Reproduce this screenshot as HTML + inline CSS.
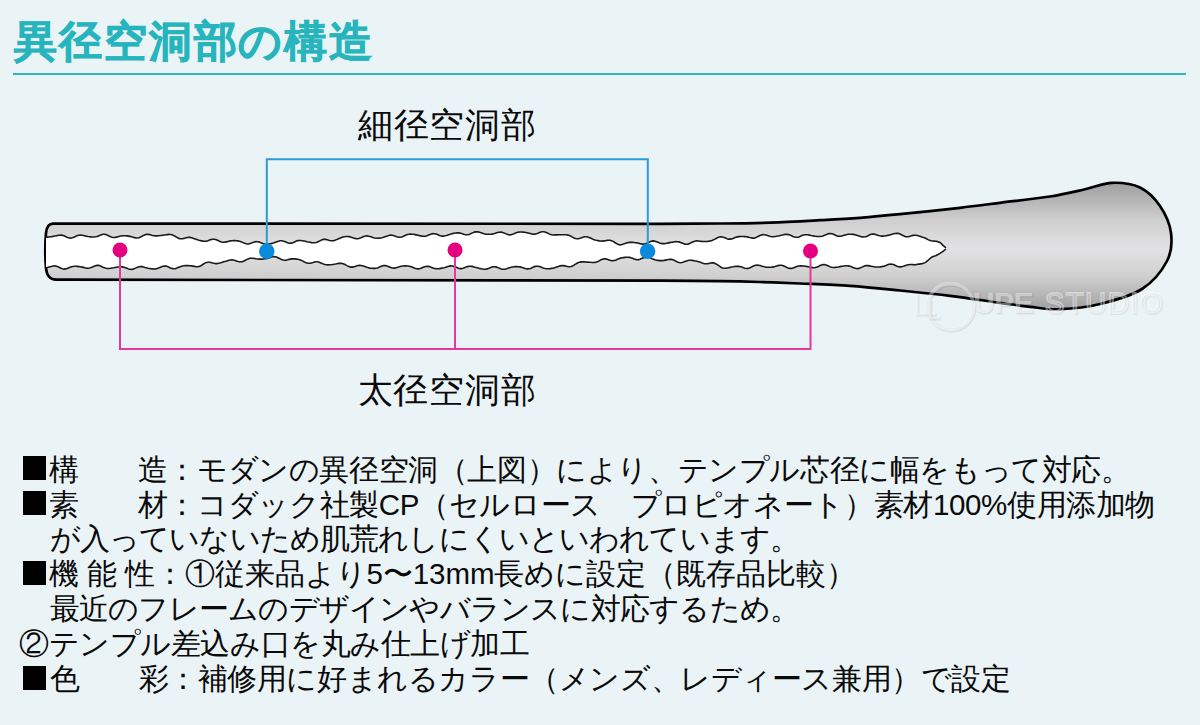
<!DOCTYPE html>
<html lang="ja"><head><meta charset="utf-8">
<style>
html,body{margin:0;padding:0;}
body{width:1200px;height:725px;overflow:hidden;background:#eaf3f6;position:relative;font-family:"Liberation Sans",sans-serif;color:#0a0a0a;}
.title{position:absolute;left:14px;top:13px;font-size:43px;letter-spacing:1.9px;font-weight:bold;color:#27b5bd;line-height:56px;white-space:nowrap;-webkit-text-stroke:0.7px #27b5bd;}
.rule{position:absolute;left:12.5px;top:72.5px;width:1173.5px;height:2px;background:#2db6bd;}
.lbl{position:absolute;font-size:35px;line-height:40px;white-space:nowrap;color:#0a0a0a;}
.ln{position:absolute;font-size:29.5px;line-height:34px;white-space:nowrap;color:#0a0a0a;}
.sq{position:absolute;left:22.7px;width:23.5px;height:24px;background:#000;}
svg{position:absolute;left:0;top:0;}
</style></head><body>
<div class="title">異径空洞部の構造</div>
<div class="rule"></div>
<svg width="1200" height="725" viewBox="0 0 1200 725">
<defs>
<linearGradient id="g" gradientUnits="userSpaceOnUse" x1="0" y1="182" x2="0" y2="310">
<stop offset="0" stop-color="#9e9e9e"/>
<stop offset="0.3" stop-color="#cfcfcf"/>
<stop offset="0.52" stop-color="#e2e2e4"/>
<stop offset="0.74" stop-color="#cfcfcf"/>
<stop offset="1" stop-color="#a0a0a0"/>
</linearGradient>
</defs>
<path d="M53 223.6 L660 223.8  C670.00 223.75 701.67 223.70 720.00 223.50 C738.33 223.30 753.33 223.15 770.00 222.60 C786.67 222.05 805.00 221.00 820.00 220.20 C835.00 219.40 846.67 218.80 860.00 217.80 C873.33 216.80 883.33 215.87 900.00 214.20 C916.67 212.53 943.33 209.70 960.00 207.80 C976.67 205.90 985.00 204.68 1000.00 202.80 C1015.00 200.92 1035.83 198.75 1050.00 196.50 C1064.17 194.25 1074.67 191.58 1085.00 189.30 C1095.33 187.02 1102.83 183.10 1112.00 182.80 C1121.17 182.50 1132.00 183.63 1140.00 187.50 C1148.00 191.37 1154.83 198.42 1160.00 206.00 C1165.17 213.58 1169.83 223.83 1171.00 233.00 C1172.17 242.17 1171.83 251.67 1167.00 261.00 C1162.17 270.33 1153.17 281.83 1142.00 289.00 C1130.83 296.17 1113.67 300.63 1100.00 304.00 C1086.33 307.37 1071.67 308.73 1060.00 309.20 C1048.33 309.67 1040.00 307.87 1030.00 306.80 C1020.00 305.73 1013.33 304.63 1000.00 302.80 C986.67 300.97 966.67 297.85 950.00 295.80 C933.33 293.75 916.67 292.15 900.00 290.50 C883.33 288.85 866.67 287.07 850.00 285.90 C833.33 284.73 815.00 284.15 800.00 283.50 C785.00 282.85 773.33 282.40 760.00 282.00 C746.67 281.60 736.67 281.33 720.00 281.10 C703.33 280.87 670.00 280.68 660.00 280.60 L56 279.7 C50 279.6 46.6 275 46 268 C45.2 258 45.2 242 46 233 C46.6 227 48.5 223.7 53 223.6 Z" fill="url(#g)" stroke="#000" stroke-width="2.7"/>
<path d="M46.0 237.1 L47.5 237.1 L49.0 237.0 L50.5 236.8 L52.0 236.6 L53.5 236.3 L55.0 236.0 L56.5 235.7 L58.0 235.4 L59.5 235.2 L61.0 235.1 L62.5 235.4 L64.0 235.8 L65.5 236.5 L67.0 237.2 L68.5 237.8 L70.0 238.1 L71.5 238.0 L73.0 237.6 L74.5 237.0 L76.0 236.2 L77.5 235.6 L79.0 235.2 L80.5 235.1 L82.0 235.3 L83.5 235.5 L85.0 235.9 L86.5 236.2 L88.0 236.5 L89.5 236.7 L91.0 236.9 L92.5 237.0 L94.0 237.0 L95.5 236.8 L97.0 236.5 L98.5 235.9 L100.0 235.3 L101.5 234.7 L103.0 234.3 L104.5 234.3 L106.0 234.6 L107.5 235.2 L109.0 236.0 L110.5 236.7 L112.0 237.2 L113.5 237.5 L115.0 237.4 L116.5 237.1 L118.0 236.7 L119.5 236.3 L121.0 236.0 L122.5 235.8 L124.0 235.7 L125.5 235.7 L127.0 235.9 L128.5 236.1 L130.0 236.4 L131.5 236.8 L133.0 237.2 L134.5 237.6 L136.0 237.9 L137.5 238.0 L139.0 237.7 L140.5 237.1 L142.0 236.3 L143.5 235.4 L145.0 234.8 L146.5 234.4 L148.0 234.3 L149.5 234.6 L151.0 235.0 L152.5 235.4 L154.0 235.8 L155.5 235.9 L157.0 235.9 L158.5 235.7 L160.0 235.5 L161.5 235.4 L163.0 235.2 L164.5 235.0 L166.0 234.8 L167.5 234.6 L169.0 234.4 L170.5 234.5 L172.0 234.8 L173.5 235.4 L175.0 236.2 L176.5 237.1 L178.0 238.0 L179.5 238.6 L181.0 238.8 L182.5 238.7 L184.0 238.4 L185.5 237.9 L187.0 237.5 L188.5 237.4 L190.0 237.4 L191.5 237.7 L193.0 238.2 L194.5 238.7 L196.0 239.2 L197.5 239.7 L199.0 240.2 L200.5 240.6 L202.0 240.9 L203.5 241.2 L205.0 241.2 L206.5 241.1 L208.0 240.7 L209.5 240.1 L211.0 239.6 L212.5 239.3 L214.0 239.2 L215.5 239.5 L217.0 240.1 L218.5 240.8 L220.0 241.5 L221.5 242.0 L223.0 242.3 L224.5 242.2 L226.0 241.9 L227.5 241.6 L229.0 241.2 L230.5 240.9 L232.0 240.7 L233.5 240.6 L235.0 240.6 L236.5 240.7 L238.0 240.9 L239.5 241.2 L241.0 241.7 L242.5 242.4 L244.0 243.1 L245.5 243.6 L247.0 244.0 L248.5 244.0 L250.0 243.6 L251.5 243.1 L253.0 242.4 L254.5 241.9 L256.0 241.6 L257.5 241.7 L259.0 242.1 L260.5 242.6 L262.0 243.2 L263.5 243.8 L265.0 244.1 L266.5 244.2 L268.0 244.1 L269.5 243.9 L271.0 243.6 L272.5 243.2 L274.0 242.8 L275.5 242.2 L277.0 241.7 L278.5 241.2 L280.0 240.8 L281.5 240.8 L283.0 241.0 L284.5 241.5 L286.0 242.1 L287.5 242.7 L289.0 243.1 L290.5 243.2 L292.0 242.9 L293.5 242.4 L295.0 241.7 L296.5 241.1 L298.0 240.6 L299.5 240.5 L301.0 240.5 L302.5 240.7 L304.0 241.0 L305.5 241.3 L307.0 241.7 L308.5 242.0 L310.0 242.3 L311.5 242.6 L313.0 242.8 L314.5 242.8 L316.0 242.5 L317.5 242.0 L319.0 241.3 L320.5 240.6 L322.0 239.8 L323.5 239.4 L325.0 239.3 L326.5 239.6 L328.0 240.0 L329.5 240.5 L331.0 240.8 L332.5 240.8 L334.0 240.6 L335.5 240.1 L337.0 239.4 L338.5 238.8 L340.0 238.2 L341.5 237.6 L343.0 237.1 L344.5 236.7 L346.0 236.5 L347.5 236.5 L349.0 236.6 L350.5 236.9 L352.0 237.4 L353.5 238.0 L355.0 238.4 L356.5 238.7 L358.0 238.7 L359.5 238.3 L361.0 237.7 L362.5 237.0 L364.0 236.4 L365.5 236.0 L367.0 235.9 L368.5 236.2 L370.0 236.6 L371.5 237.1 L373.0 237.6 L374.5 238.0 L376.0 238.2 L377.5 238.2 L379.0 238.1 L380.5 238.0 L382.0 237.7 L383.5 237.3 L385.0 236.8 L386.5 236.3 L388.0 235.7 L389.5 235.3 L391.0 235.1 L392.5 235.3 L394.0 235.7 L395.5 236.3 L397.0 236.8 L398.5 237.2 L400.0 237.3 L401.5 237.0 L403.0 236.4 L404.5 235.7 L406.0 235.0 L407.5 234.5 L409.0 234.2 L410.5 234.1 L412.0 234.2 L413.5 234.3 L415.0 234.6 L416.5 234.9 L418.0 235.2 L419.5 235.6 L421.0 235.9 L422.5 236.2 L424.0 236.3 L425.5 236.2 L427.0 235.7 L428.5 235.1 L430.0 234.5 L431.5 233.9 L433.0 233.6 L434.5 233.7 L436.0 234.0 L437.5 234.6 L439.0 235.3 L440.5 235.8 L442.0 236.1 L443.5 236.1 L445.0 235.8 L446.5 235.4 L448.0 234.9 L449.5 234.5 L451.0 234.0 L452.5 233.6 L454.0 233.3 L455.5 233.0 L457.0 232.8 L458.5 232.9 L460.0 233.1 L461.5 233.5 L463.0 234.0 L464.5 234.5 L466.0 234.8 L467.5 234.8 L469.0 234.4 L470.5 233.8 L472.0 233.1 L473.5 232.4 L475.0 231.9 L476.5 231.7 L478.0 231.9 L479.5 232.3 L481.0 232.8 L482.5 233.3 L484.0 233.8 L485.5 234.1 L487.0 234.2 L488.5 234.3 L490.0 234.3 L491.5 234.2 L493.0 233.9 L494.5 233.6 L496.0 233.1 L497.5 232.6 L499.0 232.2 L500.5 232.0 L502.0 232.2 L503.5 232.7 L505.0 233.4 L506.5 234.1 L508.0 234.6 L509.5 234.9 L511.0 234.8 L512.5 234.3 L514.0 233.7 L515.5 233.0 L517.0 232.5 L518.5 232.1 L520.0 232.0 L521.5 232.0 L523.0 232.1 L524.5 232.3 L526.0 232.5 L527.5 232.9 L529.0 233.2 L530.5 233.6 L532.0 234.0 L533.5 234.1 L535.0 234.1 L536.5 233.7 L538.0 233.2 L539.5 232.5 L541.0 232.0 L542.5 231.7 L544.0 231.8 L545.5 232.2 L547.0 232.8 L548.5 233.6 L550.0 234.3 L551.5 234.7 L553.0 235.0 L554.5 234.9 L556.0 234.9 L557.5 234.9 L559.0 234.8 L560.5 234.7 L562.0 234.7 L563.5 234.7 L565.0 234.7 L566.5 234.8 L568.0 235.1 L569.5 235.6 L571.0 236.3 L572.5 237.1 L574.0 237.9 L575.5 238.5 L577.0 238.8 L578.5 238.7 L580.0 238.3 L581.5 237.8 L583.0 237.2 L584.5 236.8 L586.0 236.8 L587.5 237.0 L589.0 237.5 L590.5 238.1 L592.0 238.8 L593.5 239.4 L595.0 239.9 L596.5 240.3 L598.0 240.6 L599.5 240.9 L601.0 241.0 L602.5 241.1 L604.0 240.9 L605.5 240.7 L607.0 240.4 L608.5 240.3 L610.0 240.3 L611.5 240.7 L613.0 241.4 L614.5 242.3 L616.0 243.3 L617.5 244.1 L619.0 244.7 L620.5 244.9 L622.0 244.6 L623.5 244.1 L625.0 243.5 L626.5 243.0 L628.0 242.6 L629.5 242.4 L631.0 242.3 L632.5 242.4 L634.0 242.5 L635.5 242.7 L637.0 242.9 L638.5 243.2 L640.0 243.6 L641.5 243.9 L643.0 244.1 L644.5 244.0 L646.0 243.6 L647.5 243.0 L649.0 242.3 L650.5 241.6 L652.0 241.1 L653.5 240.9 L655.0 241.2 L656.5 241.7 L658.0 242.3 L659.5 242.9 L661.0 243.4 L662.5 243.6 L664.0 243.6 L665.5 243.5 L667.0 243.2 L668.5 242.9 L670.0 242.6 L671.5 242.3 L673.0 242.1 L674.5 241.8 L676.0 241.6 L677.5 241.7 L679.0 241.9 L680.5 242.4 L682.0 243.0 L683.5 243.6 L685.0 244.1 L686.5 244.2 L688.0 244.1 L689.5 243.5 L691.0 242.8 L692.5 242.0 L694.0 241.4 L695.5 241.0 L697.0 240.9 L698.5 241.0 L700.0 241.3 L701.5 241.4 L703.0 241.5 L704.5 241.5 L706.0 241.5 L707.5 241.4 L709.0 241.2 L710.5 240.9 L712.0 240.4 L713.5 239.8 L715.0 239.1 L716.5 238.3 L718.0 237.5 L719.5 237.0 L721.0 236.9 L722.5 237.0 L724.0 237.5 L725.5 238.1 L727.0 238.7 L728.5 239.1 L730.0 239.1 L731.5 238.9 L733.0 238.4 L734.5 237.8 L736.0 237.3 L737.5 236.9 L739.0 236.6 L740.5 236.5 L742.0 236.5 L743.5 236.5 L745.0 236.6 L746.5 236.8 L748.0 237.1 L749.5 237.5 L751.0 237.8 L752.5 238.1 L754.0 238.1 L755.5 237.7 L757.0 237.1 L758.5 236.3 L760.0 235.5 L761.5 234.9 L763.0 234.6 L764.5 234.7 L766.0 235.0 L767.5 235.6 L769.0 236.1 L770.5 236.5 L772.0 236.7 L773.5 236.7 L775.0 236.5 L776.5 236.3 L778.0 236.0 L779.5 235.7 L781.0 235.3 L782.5 235.0 L784.0 234.6 L785.5 234.4 L787.0 234.4 L788.5 234.6 L790.0 235.0 L791.5 235.7 L793.0 236.4 L794.5 237.0 L796.0 237.3 L797.5 237.3 L799.0 236.9 L800.5 236.3 L802.0 235.6 L803.5 235.1 L805.0 234.7 L806.5 234.7 L808.0 234.8 L809.5 235.1 L811.0 235.5 L812.5 235.8 L814.0 236.1 L815.5 236.3 L817.0 236.5 L818.5 236.5 L820.0 236.5 L821.5 236.3 L823.0 235.9 L824.5 235.3 L826.0 234.7 L827.5 234.0 L829.0 233.6 L830.5 233.5 L832.0 233.7 L833.5 234.3 L835.0 235.0 L836.5 235.7 L838.0 236.1 L839.5 236.3 L841.0 236.1 L842.5 235.8 L844.0 235.3 L845.5 234.9 L847.0 234.5 L848.5 234.3 L850.0 234.3 L851.5 234.3 L853.0 234.4 L854.5 234.6 L856.0 234.9 L857.5 235.4 L859.0 235.9 L860.5 236.4 L862.0 236.9 L863.5 237.0 L865.0 236.8 L866.5 236.4 L868.0 235.7 L869.5 234.9 L871.0 234.3 L872.5 234.0 L874.0 234.1 L875.5 234.4 L877.0 234.9 L878.5 235.4 L880.0 235.8 L881.5 236.1 L883.0 236.1 L884.5 236.0 L886.0 235.7 L887.5 235.4 L889.0 235.1 L890.5 234.7 L892.0 234.3 L893.5 233.8 L895.0 233.5 L896.5 233.3 L898.0 233.4 L899.5 233.8 L901.0 234.5 L902.5 235.3 L904.0 236.1 L905.5 236.6 L907.0 236.8 L908.5 236.7 L910.0 236.3 L911.5 235.8 L913.0 235.4 L914.5 235.2 L916.0 235.2 L917.5 235.5 L919.0 235.9 L920.5 236.4 L922.0 237.0 L923.5 237.5 L925.0 237.9 L926.5 238.8 L928.0 239.6 L929.5 240.3 L931.0 240.8 L932.5 241.0 L934.0 241.1 L935.5 241.2 L937.0 241.4 L938.5 241.9 L940.0 242.5 L941.5 243.9 L943.0 245.4 L944.5 246.7 L946.0 248.0 L946.0 249.0 L944.5 250.2 L943.0 251.3 L941.5 252.4 L940.0 253.4 L938.5 254.3 L937.0 255.0 L935.5 255.7 L934.0 256.2 L932.5 256.8 L931.0 257.7 L929.5 259.0 L928.0 260.3 L926.5 261.6 L925.0 262.6 L923.5 263.3 L922.0 263.7 L920.5 263.9 L919.0 264.1 L917.5 264.3 L916.0 264.6 L914.5 264.7 L913.0 264.6 L911.5 264.5 L910.0 264.5 L908.5 264.7 L907.0 265.0 L905.5 265.5 L904.0 266.1 L902.5 266.6 L901.0 266.9 L899.5 266.9 L898.0 266.6 L896.5 266.0 L895.0 265.3 L893.5 264.6 L892.0 264.2 L890.5 264.1 L889.0 264.3 L887.5 264.8 L886.0 265.4 L884.5 265.9 L883.0 266.4 L881.5 266.7 L880.0 266.9 L878.5 267.0 L877.0 267.0 L875.5 267.0 L874.0 266.8 L872.5 266.5 L871.0 266.2 L869.5 265.9 L868.0 265.6 L866.5 265.6 L865.0 265.8 L863.5 266.4 L862.0 267.1 L860.5 267.8 L859.0 268.4 L857.5 268.6 L856.0 268.5 L854.5 268.1 L853.0 267.5 L851.5 266.8 L850.0 266.3 L848.5 265.9 L847.0 265.8 L845.5 265.8 L844.0 266.0 L842.5 266.2 L841.0 266.4 L839.5 266.7 L838.0 267.0 L836.5 267.2 L835.0 267.4 L833.5 267.5 L832.0 267.3 L830.5 266.9 L829.0 266.3 L827.5 265.6 L826.0 265.0 L824.5 264.6 L823.0 264.6 L821.5 265.0 L820.0 265.6 L818.5 266.4 L817.0 267.0 L815.5 267.5 L814.0 267.7 L812.5 267.6 L811.0 267.3 L809.5 267.0 L808.0 266.7 L806.5 266.4 L805.0 266.2 L803.5 266.0 L802.0 265.9 L800.5 265.9 L799.0 266.0 L797.5 266.3 L796.0 266.8 L794.5 267.4 L793.0 268.0 L791.5 268.4 L790.0 268.4 L788.5 268.2 L787.0 267.6 L785.5 266.8 L784.0 266.1 L782.5 265.5 L781.0 265.3 L779.5 265.3 L778.0 265.6 L776.5 266.0 L775.0 266.5 L773.5 266.9 L772.0 267.1 L770.5 267.2 L769.0 267.2 L767.5 267.2 L766.0 267.1 L764.5 266.8 L763.0 266.4 L761.5 266.0 L760.0 265.5 L758.5 265.2 L757.0 265.1 L755.5 265.3 L754.0 265.8 L752.5 266.5 L751.0 267.3 L749.5 268.0 L748.0 268.4 L746.5 268.5 L745.0 268.2 L743.5 267.7 L742.0 267.1 L740.5 266.7 L739.0 266.4 L737.5 266.3 L736.0 266.4 L734.5 266.5 L733.0 266.8 L731.5 267.0 L730.0 267.4 L728.5 267.7 L727.0 268.0 L725.5 268.3 L724.0 268.3 L722.5 267.9 L721.0 267.2 L719.5 266.2 L718.0 265.2 L716.5 264.2 L715.0 263.4 L713.5 262.9 L712.0 262.8 L710.5 263.0 L709.0 263.4 L707.5 263.7 L706.0 263.8 L704.5 263.7 L703.0 263.3 L701.5 262.8 L700.0 262.1 L698.5 261.7 L697.0 261.3 L695.5 261.0 L694.0 260.7 L692.5 260.4 L691.0 260.3 L689.5 260.3 L688.0 260.5 L686.5 260.9 L685.0 261.5 L683.5 262.1 L682.0 262.5 L680.5 262.7 L679.0 262.5 L677.5 261.9 L676.0 261.2 L674.5 260.4 L673.0 259.8 L671.5 259.4 L670.0 259.3 L668.5 259.5 L667.0 259.8 L665.5 260.1 L664.0 260.4 L662.5 260.6 L661.0 260.6 L659.5 260.6 L658.0 260.4 L656.5 260.2 L655.0 259.8 L653.5 259.3 L652.0 258.7 L650.5 258.0 L649.0 257.4 L647.5 257.1 L646.0 257.1 L644.5 257.4 L643.0 258.0 L641.5 258.6 L640.0 259.3 L638.5 259.6 L637.0 259.7 L635.5 259.4 L634.0 258.9 L632.5 258.3 L631.0 257.8 L629.5 257.4 L628.0 257.3 L626.5 257.3 L625.0 257.4 L623.5 257.6 L622.0 257.8 L620.5 258.1 L619.0 258.7 L617.5 259.3 L616.0 260.0 L614.5 260.4 L613.0 260.7 L611.5 260.6 L610.0 260.3 L608.5 259.7 L607.0 259.2 L605.5 258.9 L604.0 258.9 L602.5 259.2 L601.0 259.8 L599.5 260.6 L598.0 261.4 L596.5 262.0 L595.0 262.4 L593.5 262.5 L592.0 262.5 L590.5 262.3 L589.0 262.2 L587.5 262.1 L586.0 262.0 L584.5 261.9 L583.0 261.8 L581.5 261.9 L580.0 262.1 L578.5 262.5 L577.0 263.2 L575.5 264.1 L574.0 265.1 L572.5 265.9 L571.0 266.5 L569.5 266.7 L568.0 266.6 L566.5 266.3 L565.0 265.9 L563.5 265.6 L562.0 265.6 L560.5 265.9 L559.0 266.2 L557.5 266.7 L556.0 267.2 L554.5 267.7 L553.0 268.1 L551.5 268.4 L550.0 268.6 L548.5 268.7 L547.0 268.7 L545.5 268.5 L544.0 268.2 L542.5 267.7 L541.0 267.1 L539.5 266.6 L538.0 266.2 L536.5 266.2 L535.0 266.4 L533.5 267.0 L532.0 267.7 L530.5 268.4 L529.0 268.8 L527.5 268.9 L526.0 268.7 L524.5 268.3 L523.0 267.8 L521.5 267.3 L520.0 266.9 L518.5 266.7 L517.0 266.6 L515.5 266.6 L514.0 266.8 L512.5 267.0 L511.0 267.3 L509.5 267.8 L508.0 268.3 L506.5 268.8 L505.0 269.2 L503.5 269.3 L502.0 269.2 L500.5 268.7 L499.0 268.1 L497.5 267.4 L496.0 266.9 L494.5 266.7 L493.0 266.8 L491.5 267.2 L490.0 267.8 L488.5 268.4 L487.0 268.9 L485.5 269.2 L484.0 269.2 L482.5 269.0 L481.0 268.7 L479.5 268.4 L478.0 268.0 L476.5 267.6 L475.0 267.2 L473.5 266.7 L472.0 266.4 L470.5 266.2 L469.0 266.3 L467.5 266.6 L466.0 267.1 L464.5 267.7 L463.0 268.3 L461.5 268.6 L460.0 268.6 L458.5 268.2 L457.0 267.6 L455.5 267.0 L454.0 266.4 L452.5 266.0 L451.0 265.9 L449.5 266.1 L448.0 266.5 L446.5 266.9 L445.0 267.4 L443.5 267.8 L442.0 268.1 L440.5 268.4 L439.0 268.6 L437.5 268.7 L436.0 268.7 L434.5 268.4 L433.0 268.0 L431.5 267.4 L430.0 266.8 L428.5 266.4 L427.0 266.3 L425.5 266.5 L424.0 267.0 L422.5 267.6 L421.0 268.3 L419.5 268.7 L418.0 268.9 L416.5 268.7 L415.0 268.3 L413.5 267.7 L412.0 267.1 L410.5 266.6 L409.0 266.2 L407.5 266.0 L406.0 265.9 L404.5 265.9 L403.0 266.0 L401.5 266.2 L400.0 266.6 L398.5 267.1 L397.0 267.5 L395.5 267.9 L394.0 268.1 L392.5 268.0 L391.0 267.6 L389.5 267.0 L388.0 266.4 L386.5 265.8 L385.0 265.5 L383.5 265.6 L382.0 266.0 L380.5 266.6 L379.0 267.3 L377.5 267.9 L376.0 268.3 L374.5 268.4 L373.0 268.4 L371.5 268.3 L370.0 268.1 L368.5 267.7 L367.0 267.3 L365.5 266.8 L364.0 266.3 L362.5 265.8 L361.0 265.5 L359.5 265.4 L358.0 265.5 L356.5 265.9 L355.0 266.4 L353.5 266.9 L352.0 267.1 L350.5 267.1 L349.0 266.6 L347.5 265.9 L346.0 265.1 L344.5 264.3 L343.0 263.7 L341.5 263.4 L340.0 263.3 L338.5 263.4 L337.0 263.7 L335.5 264.0 L334.0 264.2 L332.5 264.5 L331.0 264.7 L329.5 264.8 L328.0 264.9 L326.5 264.8 L325.0 264.5 L323.5 264.1 L322.0 263.4 L320.5 262.8 L319.0 262.2 L317.5 261.8 L316.0 261.7 L314.5 262.0 L313.0 262.5 L311.5 262.9 L310.0 263.3 L308.5 263.3 L307.0 263.0 L305.5 262.4 L304.0 261.7 L302.5 260.9 L301.0 260.2 L299.5 259.7 L298.0 259.3 L296.5 259.1 L295.0 258.9 L293.5 258.8 L292.0 258.9 L290.5 259.1 L289.0 259.4 L287.5 259.8 L286.0 260.1 L284.5 260.2 L283.0 260.0 L281.5 259.5 L280.0 258.8 L278.5 258.0 L277.0 257.2 L275.5 256.7 L274.0 256.6 L272.5 256.8 L271.0 257.3 L269.5 257.8 L268.0 258.3 L266.5 258.7 L265.0 258.8 L263.5 259.0 L262.0 259.1 L260.5 259.1 L259.0 259.1 L257.5 259.0 L256.0 258.8 L254.5 258.5 L253.0 258.3 L251.5 258.2 L250.0 258.3 L248.5 258.7 L247.0 259.4 L245.5 260.2 L244.0 261.0 L242.5 261.6 L241.0 261.8 L239.5 261.8 L238.0 261.4 L236.5 260.9 L235.0 260.4 L233.5 260.0 L232.0 259.9 L230.5 260.0 L229.0 260.3 L227.5 260.7 L226.0 261.2 L224.5 261.6 L223.0 262.1 L221.5 262.6 L220.0 263.0 L218.5 263.3 L217.0 263.6 L215.5 263.6 L214.0 263.3 L212.5 263.0 L211.0 262.5 L209.5 262.2 L208.0 262.2 L206.5 262.5 L205.0 263.1 L203.5 264.0 L202.0 265.0 L200.5 265.9 L199.0 266.4 L197.5 266.7 L196.0 266.6 L194.5 266.4 L193.0 266.1 L191.5 265.9 L190.0 265.7 L188.5 265.6 L187.0 265.6 L185.5 265.6 L184.0 265.7 L182.5 266.0 L181.0 266.4 L179.5 267.0 L178.0 267.6 L176.5 268.2 L175.0 268.6 L173.5 268.7 L172.0 268.4 L170.5 267.9 L169.0 267.2 L167.5 266.6 L166.0 266.1 L164.5 266.1 L163.0 266.3 L161.5 266.8 L160.0 267.4 L158.5 268.0 L157.0 268.5 L155.5 268.9 L154.0 269.0 L152.5 268.9 L151.0 268.8 L149.5 268.5 L148.0 268.2 L146.5 267.8 L145.0 267.4 L143.5 266.9 L142.0 266.6 L140.5 266.5 L139.0 266.7 L137.5 267.2 L136.0 267.9 L134.5 268.6 L133.0 269.2 L131.5 269.4 L130.0 269.3 L128.5 268.9 L127.0 268.3 L125.5 267.7 L124.0 267.2 L122.5 266.9 L121.0 266.7 L119.5 266.8 L118.0 267.0 L116.5 267.2 L115.0 267.5 L113.5 267.8 L112.0 268.0 L110.5 268.3 L109.0 268.5 L107.5 268.5 L106.0 268.3 L104.5 267.8 L103.0 267.2 L101.5 266.5 L100.0 265.8 L98.5 265.4 L97.0 265.4 L95.5 265.7 L94.0 266.3 L92.5 267.0 L91.0 267.6 L89.5 268.0 L88.0 268.2 L86.5 268.1 L85.0 267.8 L83.5 267.4 L82.0 267.1 L80.5 266.8 L79.0 266.6 L77.5 266.4 L76.0 266.3 L74.5 266.3 L73.0 266.5 L71.5 266.8 L70.0 267.3 L68.5 267.9 L67.0 268.5 L65.5 268.9 L64.0 269.1 L62.5 268.8 L61.0 268.3 L59.5 267.5 L58.0 266.8 L56.5 266.2 L55.0 265.9 L53.5 266.0 L52.0 266.3 L50.5 266.7 L49.0 267.1 L47.5 267.5 L46.0 267.7 Z" fill="#fff" stroke="none"/>
<path d="M46.0 237.1 L47.5 237.1 L49.0 237.0 L50.5 236.8 L52.0 236.6 L53.5 236.3 L55.0 236.0 L56.5 235.7 L58.0 235.4 L59.5 235.2 L61.0 235.1 L62.5 235.4 L64.0 235.8 L65.5 236.5 L67.0 237.2 L68.5 237.8 L70.0 238.1 L71.5 238.0 L73.0 237.6 L74.5 237.0 L76.0 236.2 L77.5 235.6 L79.0 235.2 L80.5 235.1 L82.0 235.3 L83.5 235.5 L85.0 235.9 L86.5 236.2 L88.0 236.5 L89.5 236.7 L91.0 236.9 L92.5 237.0 L94.0 237.0 L95.5 236.8 L97.0 236.5 L98.5 235.9 L100.0 235.3 L101.5 234.7 L103.0 234.3 L104.5 234.3 L106.0 234.6 L107.5 235.2 L109.0 236.0 L110.5 236.7 L112.0 237.2 L113.5 237.5 L115.0 237.4 L116.5 237.1 L118.0 236.7 L119.5 236.3 L121.0 236.0 L122.5 235.8 L124.0 235.7 L125.5 235.7 L127.0 235.9 L128.5 236.1 L130.0 236.4 L131.5 236.8 L133.0 237.2 L134.5 237.6 L136.0 237.9 L137.5 238.0 L139.0 237.7 L140.5 237.1 L142.0 236.3 L143.5 235.4 L145.0 234.8 L146.5 234.4 L148.0 234.3 L149.5 234.6 L151.0 235.0 L152.5 235.4 L154.0 235.8 L155.5 235.9 L157.0 235.9 L158.5 235.7 L160.0 235.5 L161.5 235.4 L163.0 235.2 L164.5 235.0 L166.0 234.8 L167.5 234.6 L169.0 234.4 L170.5 234.5 L172.0 234.8 L173.5 235.4 L175.0 236.2 L176.5 237.1 L178.0 238.0 L179.5 238.6 L181.0 238.8 L182.5 238.7 L184.0 238.4 L185.5 237.9 L187.0 237.5 L188.5 237.4 L190.0 237.4 L191.5 237.7 L193.0 238.2 L194.5 238.7 L196.0 239.2 L197.5 239.7 L199.0 240.2 L200.5 240.6 L202.0 240.9 L203.5 241.2 L205.0 241.2 L206.5 241.1 L208.0 240.7 L209.5 240.1 L211.0 239.6 L212.5 239.3 L214.0 239.2 L215.5 239.5 L217.0 240.1 L218.5 240.8 L220.0 241.5 L221.5 242.0 L223.0 242.3 L224.5 242.2 L226.0 241.9 L227.5 241.6 L229.0 241.2 L230.5 240.9 L232.0 240.7 L233.5 240.6 L235.0 240.6 L236.5 240.7 L238.0 240.9 L239.5 241.2 L241.0 241.7 L242.5 242.4 L244.0 243.1 L245.5 243.6 L247.0 244.0 L248.5 244.0 L250.0 243.6 L251.5 243.1 L253.0 242.4 L254.5 241.9 L256.0 241.6 L257.5 241.7 L259.0 242.1 L260.5 242.6 L262.0 243.2 L263.5 243.8 L265.0 244.1 L266.5 244.2 L268.0 244.1 L269.5 243.9 L271.0 243.6 L272.5 243.2 L274.0 242.8 L275.5 242.2 L277.0 241.7 L278.5 241.2 L280.0 240.8 L281.5 240.8 L283.0 241.0 L284.5 241.5 L286.0 242.1 L287.5 242.7 L289.0 243.1 L290.5 243.2 L292.0 242.9 L293.5 242.4 L295.0 241.7 L296.5 241.1 L298.0 240.6 L299.5 240.5 L301.0 240.5 L302.5 240.7 L304.0 241.0 L305.5 241.3 L307.0 241.7 L308.5 242.0 L310.0 242.3 L311.5 242.6 L313.0 242.8 L314.5 242.8 L316.0 242.5 L317.5 242.0 L319.0 241.3 L320.5 240.6 L322.0 239.8 L323.5 239.4 L325.0 239.3 L326.5 239.6 L328.0 240.0 L329.5 240.5 L331.0 240.8 L332.5 240.8 L334.0 240.6 L335.5 240.1 L337.0 239.4 L338.5 238.8 L340.0 238.2 L341.5 237.6 L343.0 237.1 L344.5 236.7 L346.0 236.5 L347.5 236.5 L349.0 236.6 L350.5 236.9 L352.0 237.4 L353.5 238.0 L355.0 238.4 L356.5 238.7 L358.0 238.7 L359.5 238.3 L361.0 237.7 L362.5 237.0 L364.0 236.4 L365.5 236.0 L367.0 235.9 L368.5 236.2 L370.0 236.6 L371.5 237.1 L373.0 237.6 L374.5 238.0 L376.0 238.2 L377.5 238.2 L379.0 238.1 L380.5 238.0 L382.0 237.7 L383.5 237.3 L385.0 236.8 L386.5 236.3 L388.0 235.7 L389.5 235.3 L391.0 235.1 L392.5 235.3 L394.0 235.7 L395.5 236.3 L397.0 236.8 L398.5 237.2 L400.0 237.3 L401.5 237.0 L403.0 236.4 L404.5 235.7 L406.0 235.0 L407.5 234.5 L409.0 234.2 L410.5 234.1 L412.0 234.2 L413.5 234.3 L415.0 234.6 L416.5 234.9 L418.0 235.2 L419.5 235.6 L421.0 235.9 L422.5 236.2 L424.0 236.3 L425.5 236.2 L427.0 235.7 L428.5 235.1 L430.0 234.5 L431.5 233.9 L433.0 233.6 L434.5 233.7 L436.0 234.0 L437.5 234.6 L439.0 235.3 L440.5 235.8 L442.0 236.1 L443.5 236.1 L445.0 235.8 L446.5 235.4 L448.0 234.9 L449.5 234.5 L451.0 234.0 L452.5 233.6 L454.0 233.3 L455.5 233.0 L457.0 232.8 L458.5 232.9 L460.0 233.1 L461.5 233.5 L463.0 234.0 L464.5 234.5 L466.0 234.8 L467.5 234.8 L469.0 234.4 L470.5 233.8 L472.0 233.1 L473.5 232.4 L475.0 231.9 L476.5 231.7 L478.0 231.9 L479.5 232.3 L481.0 232.8 L482.5 233.3 L484.0 233.8 L485.5 234.1 L487.0 234.2 L488.5 234.3 L490.0 234.3 L491.5 234.2 L493.0 233.9 L494.5 233.6 L496.0 233.1 L497.5 232.6 L499.0 232.2 L500.5 232.0 L502.0 232.2 L503.5 232.7 L505.0 233.4 L506.5 234.1 L508.0 234.6 L509.5 234.9 L511.0 234.8 L512.5 234.3 L514.0 233.7 L515.5 233.0 L517.0 232.5 L518.5 232.1 L520.0 232.0 L521.5 232.0 L523.0 232.1 L524.5 232.3 L526.0 232.5 L527.5 232.9 L529.0 233.2 L530.5 233.6 L532.0 234.0 L533.5 234.1 L535.0 234.1 L536.5 233.7 L538.0 233.2 L539.5 232.5 L541.0 232.0 L542.5 231.7 L544.0 231.8 L545.5 232.2 L547.0 232.8 L548.5 233.6 L550.0 234.3 L551.5 234.7 L553.0 235.0 L554.5 234.9 L556.0 234.9 L557.5 234.9 L559.0 234.8 L560.5 234.7 L562.0 234.7 L563.5 234.7 L565.0 234.7 L566.5 234.8 L568.0 235.1 L569.5 235.6 L571.0 236.3 L572.5 237.1 L574.0 237.9 L575.5 238.5 L577.0 238.8 L578.5 238.7 L580.0 238.3 L581.5 237.8 L583.0 237.2 L584.5 236.8 L586.0 236.8 L587.5 237.0 L589.0 237.5 L590.5 238.1 L592.0 238.8 L593.5 239.4 L595.0 239.9 L596.5 240.3 L598.0 240.6 L599.5 240.9 L601.0 241.0 L602.5 241.1 L604.0 240.9 L605.5 240.7 L607.0 240.4 L608.5 240.3 L610.0 240.3 L611.5 240.7 L613.0 241.4 L614.5 242.3 L616.0 243.3 L617.5 244.1 L619.0 244.7 L620.5 244.9 L622.0 244.6 L623.5 244.1 L625.0 243.5 L626.5 243.0 L628.0 242.6 L629.5 242.4 L631.0 242.3 L632.5 242.4 L634.0 242.5 L635.5 242.7 L637.0 242.9 L638.5 243.2 L640.0 243.6 L641.5 243.9 L643.0 244.1 L644.5 244.0 L646.0 243.6 L647.5 243.0 L649.0 242.3 L650.5 241.6 L652.0 241.1 L653.5 240.9 L655.0 241.2 L656.5 241.7 L658.0 242.3 L659.5 242.9 L661.0 243.4 L662.5 243.6 L664.0 243.6 L665.5 243.5 L667.0 243.2 L668.5 242.9 L670.0 242.6 L671.5 242.3 L673.0 242.1 L674.5 241.8 L676.0 241.6 L677.5 241.7 L679.0 241.9 L680.5 242.4 L682.0 243.0 L683.5 243.6 L685.0 244.1 L686.5 244.2 L688.0 244.1 L689.5 243.5 L691.0 242.8 L692.5 242.0 L694.0 241.4 L695.5 241.0 L697.0 240.9 L698.5 241.0 L700.0 241.3 L701.5 241.4 L703.0 241.5 L704.5 241.5 L706.0 241.5 L707.5 241.4 L709.0 241.2 L710.5 240.9 L712.0 240.4 L713.5 239.8 L715.0 239.1 L716.5 238.3 L718.0 237.5 L719.5 237.0 L721.0 236.9 L722.5 237.0 L724.0 237.5 L725.5 238.1 L727.0 238.7 L728.5 239.1 L730.0 239.1 L731.5 238.9 L733.0 238.4 L734.5 237.8 L736.0 237.3 L737.5 236.9 L739.0 236.6 L740.5 236.5 L742.0 236.5 L743.5 236.5 L745.0 236.6 L746.5 236.8 L748.0 237.1 L749.5 237.5 L751.0 237.8 L752.5 238.1 L754.0 238.1 L755.5 237.7 L757.0 237.1 L758.5 236.3 L760.0 235.5 L761.5 234.9 L763.0 234.6 L764.5 234.7 L766.0 235.0 L767.5 235.6 L769.0 236.1 L770.5 236.5 L772.0 236.7 L773.5 236.7 L775.0 236.5 L776.5 236.3 L778.0 236.0 L779.5 235.7 L781.0 235.3 L782.5 235.0 L784.0 234.6 L785.5 234.4 L787.0 234.4 L788.5 234.6 L790.0 235.0 L791.5 235.7 L793.0 236.4 L794.5 237.0 L796.0 237.3 L797.5 237.3 L799.0 236.9 L800.5 236.3 L802.0 235.6 L803.5 235.1 L805.0 234.7 L806.5 234.7 L808.0 234.8 L809.5 235.1 L811.0 235.5 L812.5 235.8 L814.0 236.1 L815.5 236.3 L817.0 236.5 L818.5 236.5 L820.0 236.5 L821.5 236.3 L823.0 235.9 L824.5 235.3 L826.0 234.7 L827.5 234.0 L829.0 233.6 L830.5 233.5 L832.0 233.7 L833.5 234.3 L835.0 235.0 L836.5 235.7 L838.0 236.1 L839.5 236.3 L841.0 236.1 L842.5 235.8 L844.0 235.3 L845.5 234.9 L847.0 234.5 L848.5 234.3 L850.0 234.3 L851.5 234.3 L853.0 234.4 L854.5 234.6 L856.0 234.9 L857.5 235.4 L859.0 235.9 L860.5 236.4 L862.0 236.9 L863.5 237.0 L865.0 236.8 L866.5 236.4 L868.0 235.7 L869.5 234.9 L871.0 234.3 L872.5 234.0 L874.0 234.1 L875.5 234.4 L877.0 234.9 L878.5 235.4 L880.0 235.8 L881.5 236.1 L883.0 236.1 L884.5 236.0 L886.0 235.7 L887.5 235.4 L889.0 235.1 L890.5 234.7 L892.0 234.3 L893.5 233.8 L895.0 233.5 L896.5 233.3 L898.0 233.4 L899.5 233.8 L901.0 234.5 L902.5 235.3 L904.0 236.1 L905.5 236.6 L907.0 236.8 L908.5 236.7 L910.0 236.3 L911.5 235.8 L913.0 235.4 L914.5 235.2 L916.0 235.2 L917.5 235.5 L919.0 235.9 L920.5 236.4 L922.0 237.0 L923.5 237.5 L925.0 237.9 L926.5 238.8 L928.0 239.6 L929.5 240.3 L931.0 240.8 L932.5 241.0 L934.0 241.1 L935.5 241.2 L937.0 241.4 L938.5 241.9 L940.0 242.5 L941.5 243.9 L943.0 245.4 L944.5 246.7 L946.0 248.0" fill="none" stroke="#1a1a1a" stroke-width="1.6"/>
<path d="M46.0 267.7 L47.5 267.5 L49.0 267.1 L50.5 266.7 L52.0 266.3 L53.5 266.0 L55.0 265.9 L56.5 266.2 L58.0 266.8 L59.5 267.5 L61.0 268.3 L62.5 268.8 L64.0 269.1 L65.5 268.9 L67.0 268.5 L68.5 267.9 L70.0 267.3 L71.5 266.8 L73.0 266.5 L74.5 266.3 L76.0 266.3 L77.5 266.4 L79.0 266.6 L80.5 266.8 L82.0 267.1 L83.5 267.4 L85.0 267.8 L86.5 268.1 L88.0 268.2 L89.5 268.0 L91.0 267.6 L92.5 267.0 L94.0 266.3 L95.5 265.7 L97.0 265.4 L98.5 265.4 L100.0 265.8 L101.5 266.5 L103.0 267.2 L104.5 267.8 L106.0 268.3 L107.5 268.5 L109.0 268.5 L110.5 268.3 L112.0 268.0 L113.5 267.8 L115.0 267.5 L116.5 267.2 L118.0 267.0 L119.5 266.8 L121.0 266.7 L122.5 266.9 L124.0 267.2 L125.5 267.7 L127.0 268.3 L128.5 268.9 L130.0 269.3 L131.5 269.4 L133.0 269.2 L134.5 268.6 L136.0 267.9 L137.5 267.2 L139.0 266.7 L140.5 266.5 L142.0 266.6 L143.5 266.9 L145.0 267.4 L146.5 267.8 L148.0 268.2 L149.5 268.5 L151.0 268.8 L152.5 268.9 L154.0 269.0 L155.5 268.9 L157.0 268.5 L158.5 268.0 L160.0 267.4 L161.5 266.8 L163.0 266.3 L164.5 266.1 L166.0 266.1 L167.5 266.6 L169.0 267.2 L170.5 267.9 L172.0 268.4 L173.5 268.7 L175.0 268.6 L176.5 268.2 L178.0 267.6 L179.5 267.0 L181.0 266.4 L182.5 266.0 L184.0 265.7 L185.5 265.6 L187.0 265.6 L188.5 265.6 L190.0 265.7 L191.5 265.9 L193.0 266.1 L194.5 266.4 L196.0 266.6 L197.5 266.7 L199.0 266.4 L200.5 265.9 L202.0 265.0 L203.5 264.0 L205.0 263.1 L206.5 262.5 L208.0 262.2 L209.5 262.2 L211.0 262.5 L212.5 263.0 L214.0 263.3 L215.5 263.6 L217.0 263.6 L218.5 263.3 L220.0 263.0 L221.5 262.6 L223.0 262.1 L224.5 261.6 L226.0 261.2 L227.5 260.7 L229.0 260.3 L230.5 260.0 L232.0 259.9 L233.5 260.0 L235.0 260.4 L236.5 260.9 L238.0 261.4 L239.5 261.8 L241.0 261.8 L242.5 261.6 L244.0 261.0 L245.5 260.2 L247.0 259.4 L248.5 258.7 L250.0 258.3 L251.5 258.2 L253.0 258.3 L254.5 258.5 L256.0 258.8 L257.5 259.0 L259.0 259.1 L260.5 259.1 L262.0 259.1 L263.5 259.0 L265.0 258.8 L266.5 258.7 L268.0 258.3 L269.5 257.8 L271.0 257.3 L272.5 256.8 L274.0 256.6 L275.5 256.7 L277.0 257.2 L278.5 258.0 L280.0 258.8 L281.5 259.5 L283.0 260.0 L284.5 260.2 L286.0 260.1 L287.5 259.8 L289.0 259.4 L290.5 259.1 L292.0 258.9 L293.5 258.8 L295.0 258.9 L296.5 259.1 L298.0 259.3 L299.5 259.7 L301.0 260.2 L302.5 260.9 L304.0 261.7 L305.5 262.4 L307.0 263.0 L308.5 263.3 L310.0 263.3 L311.5 262.9 L313.0 262.5 L314.5 262.0 L316.0 261.7 L317.5 261.8 L319.0 262.2 L320.5 262.8 L322.0 263.4 L323.5 264.1 L325.0 264.5 L326.5 264.8 L328.0 264.9 L329.5 264.8 L331.0 264.7 L332.5 264.5 L334.0 264.2 L335.5 264.0 L337.0 263.7 L338.5 263.4 L340.0 263.3 L341.5 263.4 L343.0 263.7 L344.5 264.3 L346.0 265.1 L347.5 265.9 L349.0 266.6 L350.5 267.1 L352.0 267.1 L353.5 266.9 L355.0 266.4 L356.5 265.9 L358.0 265.5 L359.5 265.4 L361.0 265.5 L362.5 265.8 L364.0 266.3 L365.5 266.8 L367.0 267.3 L368.5 267.7 L370.0 268.1 L371.5 268.3 L373.0 268.4 L374.5 268.4 L376.0 268.3 L377.5 267.9 L379.0 267.3 L380.5 266.6 L382.0 266.0 L383.5 265.6 L385.0 265.5 L386.5 265.8 L388.0 266.4 L389.5 267.0 L391.0 267.6 L392.5 268.0 L394.0 268.1 L395.5 267.9 L397.0 267.5 L398.5 267.1 L400.0 266.6 L401.5 266.2 L403.0 266.0 L404.5 265.9 L406.0 265.9 L407.5 266.0 L409.0 266.2 L410.5 266.6 L412.0 267.1 L413.5 267.7 L415.0 268.3 L416.5 268.7 L418.0 268.9 L419.5 268.7 L421.0 268.3 L422.5 267.6 L424.0 267.0 L425.5 266.5 L427.0 266.3 L428.5 266.4 L430.0 266.8 L431.5 267.4 L433.0 268.0 L434.5 268.4 L436.0 268.7 L437.5 268.7 L439.0 268.6 L440.5 268.4 L442.0 268.1 L443.5 267.8 L445.0 267.4 L446.5 266.9 L448.0 266.5 L449.5 266.1 L451.0 265.9 L452.5 266.0 L454.0 266.4 L455.5 267.0 L457.0 267.6 L458.5 268.2 L460.0 268.6 L461.5 268.6 L463.0 268.3 L464.5 267.7 L466.0 267.1 L467.5 266.6 L469.0 266.3 L470.5 266.2 L472.0 266.4 L473.5 266.7 L475.0 267.2 L476.5 267.6 L478.0 268.0 L479.5 268.4 L481.0 268.7 L482.5 269.0 L484.0 269.2 L485.5 269.2 L487.0 268.9 L488.5 268.4 L490.0 267.8 L491.5 267.2 L493.0 266.8 L494.5 266.7 L496.0 266.9 L497.5 267.4 L499.0 268.1 L500.5 268.7 L502.0 269.2 L503.5 269.3 L505.0 269.2 L506.5 268.8 L508.0 268.3 L509.5 267.8 L511.0 267.3 L512.5 267.0 L514.0 266.8 L515.5 266.6 L517.0 266.6 L518.5 266.7 L520.0 266.9 L521.5 267.3 L523.0 267.8 L524.5 268.3 L526.0 268.7 L527.5 268.9 L529.0 268.8 L530.5 268.4 L532.0 267.7 L533.5 267.0 L535.0 266.4 L536.5 266.2 L538.0 266.2 L539.5 266.6 L541.0 267.1 L542.5 267.7 L544.0 268.2 L545.5 268.5 L547.0 268.7 L548.5 268.7 L550.0 268.6 L551.5 268.4 L553.0 268.1 L554.5 267.7 L556.0 267.2 L557.5 266.7 L559.0 266.2 L560.5 265.9 L562.0 265.6 L563.5 265.6 L565.0 265.9 L566.5 266.3 L568.0 266.6 L569.5 266.7 L571.0 266.5 L572.5 265.9 L574.0 265.1 L575.5 264.1 L577.0 263.2 L578.5 262.5 L580.0 262.1 L581.5 261.9 L583.0 261.8 L584.5 261.9 L586.0 262.0 L587.5 262.1 L589.0 262.2 L590.5 262.3 L592.0 262.5 L593.5 262.5 L595.0 262.4 L596.5 262.0 L598.0 261.4 L599.5 260.6 L601.0 259.8 L602.5 259.2 L604.0 258.9 L605.5 258.9 L607.0 259.2 L608.5 259.7 L610.0 260.3 L611.5 260.6 L613.0 260.7 L614.5 260.4 L616.0 260.0 L617.5 259.3 L619.0 258.7 L620.5 258.1 L622.0 257.8 L623.5 257.6 L625.0 257.4 L626.5 257.3 L628.0 257.3 L629.5 257.4 L631.0 257.8 L632.5 258.3 L634.0 258.9 L635.5 259.4 L637.0 259.7 L638.5 259.6 L640.0 259.3 L641.5 258.6 L643.0 258.0 L644.5 257.4 L646.0 257.1 L647.5 257.1 L649.0 257.4 L650.5 258.0 L652.0 258.7 L653.5 259.3 L655.0 259.8 L656.5 260.2 L658.0 260.4 L659.5 260.6 L661.0 260.6 L662.5 260.6 L664.0 260.4 L665.5 260.1 L667.0 259.8 L668.5 259.5 L670.0 259.3 L671.5 259.4 L673.0 259.8 L674.5 260.4 L676.0 261.2 L677.5 261.9 L679.0 262.5 L680.5 262.7 L682.0 262.5 L683.5 262.1 L685.0 261.5 L686.5 260.9 L688.0 260.5 L689.5 260.3 L691.0 260.3 L692.5 260.4 L694.0 260.7 L695.5 261.0 L697.0 261.3 L698.5 261.7 L700.0 262.1 L701.5 262.8 L703.0 263.3 L704.5 263.7 L706.0 263.8 L707.5 263.7 L709.0 263.4 L710.5 263.0 L712.0 262.8 L713.5 262.9 L715.0 263.4 L716.5 264.2 L718.0 265.2 L719.5 266.2 L721.0 267.2 L722.5 267.9 L724.0 268.3 L725.5 268.3 L727.0 268.0 L728.5 267.7 L730.0 267.4 L731.5 267.0 L733.0 266.8 L734.5 266.5 L736.0 266.4 L737.5 266.3 L739.0 266.4 L740.5 266.7 L742.0 267.1 L743.5 267.7 L745.0 268.2 L746.5 268.5 L748.0 268.4 L749.5 268.0 L751.0 267.3 L752.5 266.5 L754.0 265.8 L755.5 265.3 L757.0 265.1 L758.5 265.2 L760.0 265.5 L761.5 266.0 L763.0 266.4 L764.5 266.8 L766.0 267.1 L767.5 267.2 L769.0 267.2 L770.5 267.2 L772.0 267.1 L773.5 266.9 L775.0 266.5 L776.5 266.0 L778.0 265.6 L779.5 265.3 L781.0 265.3 L782.5 265.5 L784.0 266.1 L785.5 266.8 L787.0 267.6 L788.5 268.2 L790.0 268.4 L791.5 268.4 L793.0 268.0 L794.5 267.4 L796.0 266.8 L797.5 266.3 L799.0 266.0 L800.5 265.9 L802.0 265.9 L803.5 266.0 L805.0 266.2 L806.5 266.4 L808.0 266.7 L809.5 267.0 L811.0 267.3 L812.5 267.6 L814.0 267.7 L815.5 267.5 L817.0 267.0 L818.5 266.4 L820.0 265.6 L821.5 265.0 L823.0 264.6 L824.5 264.6 L826.0 265.0 L827.5 265.6 L829.0 266.3 L830.5 266.9 L832.0 267.3 L833.5 267.5 L835.0 267.4 L836.5 267.2 L838.0 267.0 L839.5 266.7 L841.0 266.4 L842.5 266.2 L844.0 266.0 L845.5 265.8 L847.0 265.8 L848.5 265.9 L850.0 266.3 L851.5 266.8 L853.0 267.5 L854.5 268.1 L856.0 268.5 L857.5 268.6 L859.0 268.4 L860.5 267.8 L862.0 267.1 L863.5 266.4 L865.0 265.8 L866.5 265.6 L868.0 265.6 L869.5 265.9 L871.0 266.2 L872.5 266.5 L874.0 266.8 L875.5 267.0 L877.0 267.0 L878.5 267.0 L880.0 266.9 L881.5 266.7 L883.0 266.4 L884.5 265.9 L886.0 265.4 L887.5 264.8 L889.0 264.3 L890.5 264.1 L892.0 264.2 L893.5 264.6 L895.0 265.3 L896.5 266.0 L898.0 266.6 L899.5 266.9 L901.0 266.9 L902.5 266.6 L904.0 266.1 L905.5 265.5 L907.0 265.0 L908.5 264.7 L910.0 264.5 L911.5 264.5 L913.0 264.6 L914.5 264.7 L916.0 264.6 L917.5 264.3 L919.0 264.1 L920.5 263.9 L922.0 263.7 L923.5 263.3 L925.0 262.6 L926.5 261.6 L928.0 260.3 L929.5 259.0 L931.0 257.7 L932.5 256.8 L934.0 256.2 L935.5 255.7 L937.0 255.0 L938.5 254.3 L940.0 253.4 L941.5 252.4 L943.0 251.3 L944.5 250.2 L946.0 249.0" fill="none" stroke="#1a1a1a" stroke-width="1.6"/>
<g fill="none" stroke="#2b9ad8" stroke-width="2">
<path d="M266.8 251 V159.3 H647.8 V251"/>
</g>
<g fill="none" stroke="#e4399a" stroke-width="2">
<path d="M120 250 V349 H810.5 V250"/>
<path d="M455 250 V349"/>
</g>
<g fill="#0a8bdc"><circle cx="266.8" cy="251.3" r="7.7"/><circle cx="647.6" cy="251.2" r="7.7"/></g>
<g fill="#e5007f"><circle cx="120" cy="250" r="7.5"/><circle cx="455" cy="250" r="7.5"/><circle cx="810.5" cy="251" r="7.5"/></g>
<g>
<circle cx="951.5" cy="307.5" r="23" fill="none" stroke="#000" stroke-opacity="0.07" stroke-width="4.5"/>
<circle cx="950.5" cy="306.5" r="23" fill="none" stroke="#fff" stroke-opacity="0.4" stroke-width="3.5"/>
<path d="M918 295 V315 H937 M931 301 V319 H941" fill="none" stroke="#000" stroke-opacity="0.07" stroke-width="3"/>
<path d="M917 294 V314 H936 M930 300 V318 H940" fill="none" stroke="#fff" stroke-opacity="0.4" stroke-width="2.5"/>
<text x="974" y="314" font-family="Liberation Sans" font-weight="bold" font-size="30" letter-spacing="-0.5" fill="#000" fill-opacity="0.06" stroke="#000" stroke-opacity="0.05" stroke-width="2">UPE</text>
<text x="973" y="313" font-family="Liberation Sans" font-weight="bold" font-size="30" letter-spacing="-0.5" fill="#fff" fill-opacity="0.42">UPE</text>
<text x="1046" y="314" font-family="Liberation Sans" font-size="29" letter-spacing="1.6" fill="none" stroke="#000" stroke-opacity="0.07" stroke-width="2.2">STUDIO</text>
<text x="1045" y="313" font-family="Liberation Sans" font-size="29" letter-spacing="1.6" fill="none" stroke="#fff" stroke-opacity="0.45" stroke-width="1.8">STUDIO</text>
</g>
</svg>
<div class="lbl" style="left:358px;top:105px;letter-spacing:0.7px">細径空洞部</div>
<div class="lbl" style="left:357.5px;top:370px;letter-spacing:0.9px">太径空洞部</div>
<div class="sq" style="top:456.3px"></div>
<div class="ln" id="l0" style="left:48.90px;top:452.50px;letter-spacing:-0.397px">構　　造：モダンの異径空洞（上図）により、テンプル芯径に幅をもって対応。</div>
<div class="sq" style="top:491.2px"></div>
<div class="ln" id="l1" style="left:48.90px;top:487.70px;letter-spacing:-0.366px">素　　材：コダック社製CP（セルロース　プロピオネート）素材100%使用添加物</div>
<div class="ln" id="l2" style="left:49.80px;top:521.90px;letter-spacing:-0.867px">が入っていないため肌荒れしにくいといわれています。</div>
<div class="sq" style="top:561.1px"></div>
<div class="ln" id="l3" style="left:48.90px;top:557.10px;letter-spacing:-0.066px">機 能 性：①従来品より5〜13mm長めに設定（既存品比較）</div>
<div class="ln" id="l4" style="left:49.80px;top:592.30px;letter-spacing:-0.783px">最近のフレームのデザインやバランスに対応するため。</div>
<div class="ln" id="l5" style="left:19.10px;top:626.50px;letter-spacing:-0.444px">②テンプル差込み口を丸み仕上げ加工</div>
<div class="sq" style="top:666.0px"></div>
<div class="ln" id="l6" style="left:49.80px;top:661.70px;letter-spacing:-0.413px">色　　彩：補修用に好まれるカラー（メンズ、レディース兼用）で設定</div>

</body></html>
